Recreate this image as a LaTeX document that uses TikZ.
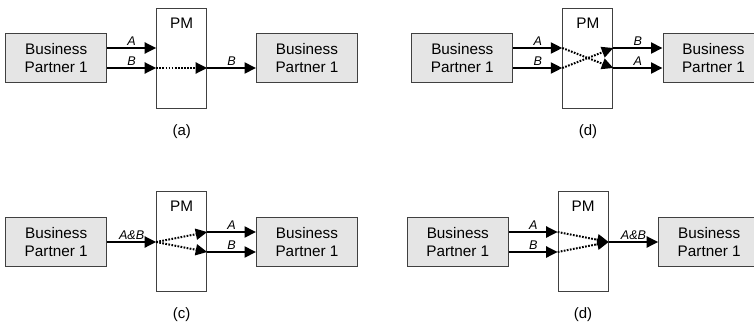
\documentclass[tikz,border=0pt]{standalone}
\usepackage{fontspec}
\setmainfont{Liberation Sans}
\usetikzlibrary{arrows.meta}

\tikzset{
  partner/.style={draw=black!75, line width=1pt, fill=black!10,
    minimum width=101pt, minimum height=49.5pt, inner sep=0pt,
    align=center, font=\fontsize{15.3}{17.7}\selectfont},
  pmbox/.style={draw=black!75, line width=1pt, fill=white,
    minimum width=50pt, minimum height=100pt, inner sep=0pt},
  pmtext/.style={font=\fontsize{15.3}{17.7}\selectfont, inner sep=0pt},
  caption/.style={font=\fontsize{15}{17}\selectfont, inner sep=0pt},
  msg/.style={line width=2pt, -{Triangle[length=11.5pt,width=11pt]}},
  relay/.style={msg, dash pattern=on 1.7pt off 1.4pt},
  lbl/.style={font=\fontsize{12.6}{14}\selectfont\itshape, inner sep=1.6pt, above}
}

\begin{document}
\begin{tikzpicture}[x=1pt, y=-1pt]
  \useasboundingbox (0,0) rectangle (754,324);
  \clip (0,0) rectangle (754,324);

  % ---- (a): one message forwarded ----
  \node[pmbox] (pmA) at (181.7,58.3) {};
  \node[pmtext] (pmAt) at ([yshift=-15.2pt]pmA.north) {PM};
  \node[partner] (lA) at (56.2,58) {Business\\Partner 1};
  \node[partner] (rA) at (307,58) {Business\\Partner 1};
  \node[caption] (capA) at (181.7,131.7) {(a)};
  \draw[msg] ([yshift=10pt]lA.east) -- node[lbl] {A} ([yshift=10pt]lA.east -| pmA.west);
  \draw[msg] ([yshift=-10pt]lA.east) -- node[lbl] {B} ([yshift=-10pt]lA.east -| pmA.west);
  \draw[relay] ([yshift=-10pt]lA.east -| pmA.west) -- ([yshift=-10pt]lA.east -| pmA.east);
  \draw[msg] ([yshift=-10pt]lA.east -| pmA.east) -- node[lbl] {B} ([yshift=-10pt]rA.west);

  % ---- (d), top: messages swapped ----
  \node[pmbox] (pmD) at (587.8,58.3) {};
  \node[pmtext] (pmDt) at ([yshift=-15.2pt]pmD.north) {PM};
  \node[partner] (lD) at (462.3,58) {Business\\Partner 1};
  \node[partner] (rD) at (713.5,58) {Business\\Partner 1};
  \node[caption] (capD) at (588,131.7) {(d)};
  \draw[msg] ([yshift=10pt]lD.east) -- node[lbl] {A} ([yshift=10pt]lD.east -| pmD.west);
  \draw[msg] ([yshift=-10pt]lD.east) -- node[lbl] {B} ([yshift=-10pt]lD.east -| pmD.west);
  \draw[relay] ([yshift=10pt]lD.east -| pmD.west) -- ([yshift=-10pt]lD.east -| pmD.east);
  \draw[relay] ([yshift=-10pt]lD.east -| pmD.west) -- ([yshift=10pt]lD.east -| pmD.east);
  \draw[msg] ([yshift=10pt]lD.east -| pmD.east) -- node[lbl] {B} ([yshift=10pt]rD.west);
  \draw[msg] ([yshift=-10pt]lD.east -| pmD.east) -- node[lbl] {A} ([yshift=-10pt]rD.west);

  % ---- (c): one message split in two ----
  \node[pmbox] (pmC) at (181.7,241.7) {};
  \node[pmtext] (pmCt) at ([yshift=-15.2pt]pmC.north) {PM};
  \node[partner] (lC) at (56.2,242) {Business\\Partner 1};
  \node[partner] (rC) at (307,242) {Business\\Partner 1};
  \node[caption] (capC) at (181.7,315) {(c)};
  \draw[msg] (lC.east) -- node[lbl] {A\&B} (lC.east -| pmC.west);
  \draw[relay] (lC.east -| pmC.west) -- ([yshift=10pt]lC.east -| pmC.east);
  \draw[relay] (lC.east -| pmC.west) -- ([yshift=-10pt]lC.east -| pmC.east);
  \draw[msg] ([yshift=10pt]lC.east -| pmC.east) -- node[lbl] {A} ([yshift=10pt]rC.west);
  \draw[msg] ([yshift=-10pt]lC.east -| pmC.east) -- node[lbl] {B} ([yshift=-10pt]rC.west);

  % ---- (d), bottom: two messages merged ----
  \node[pmbox] (pmE) at (583.2,241.7) {};
  \node[pmtext] (pmEt) at ([yshift=-15.2pt]pmE.north) {PM};
  \node[partner] (lE) at (457.8,242) {Business\\Partner 1};
  \node[partner] (rE) at (709.2,242) {Business\\Partner 1};
  \node[caption] (capE) at (583,315) {(d)};
  \draw[msg] ([yshift=10pt]lE.east) -- node[lbl] {A} ([yshift=10pt]lE.east -| pmE.west);
  \draw[msg] ([yshift=-10pt]lE.east) -- node[lbl] {B} ([yshift=-10pt]lE.east -| pmE.west);
  \draw[relay] ([yshift=10pt]lE.east -| pmE.west) -- (lE.east -| pmE.east);
  \draw[relay] ([yshift=-10pt]lE.east -| pmE.west) -- (lE.east -| pmE.east);
  \draw[msg] (lE.east -| pmE.east) -- node[lbl] {A\&B} (rE.west);
\end{tikzpicture}
\end{document}
